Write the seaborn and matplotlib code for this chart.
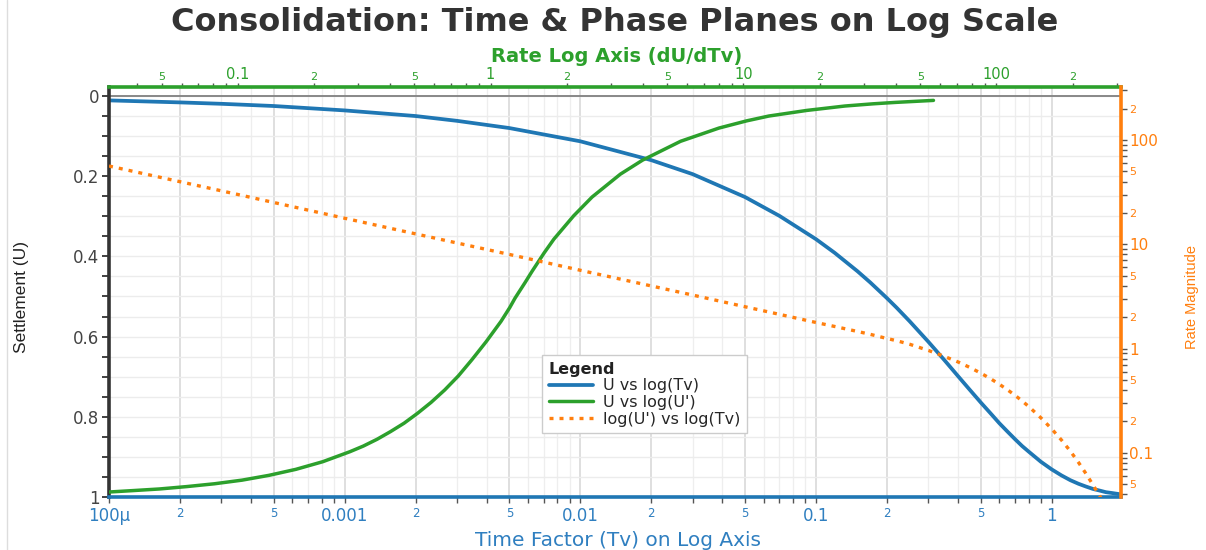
import numpy as np
import pandas as pd
import matplotlib
matplotlib.use("Agg")
import matplotlib.pyplot as plt
from matplotlib.lines import Line2D
from matplotlib.ticker import (FixedLocator, LogLocator, MultipleLocator,
                               FuncFormatter)
import seaborn as sns

sns.set_theme(style="white")
plt.rcParams["font.family"] = ["DejaVu Sans"]

# Consolidation curve: time factor, degree of settlement and settlement rate
time_factor = [0.0001, 0.0002, 0.0003, 0.0005, 0.001, 0.002, 0.003, 0.005,
               0.01, 0.02, 0.03, 0.05, 0.07, 0.1, 0.12, 0.15, 0.17, 0.2, 0.22,
               0.25, 0.3, 0.35, 0.4, 0.45, 0.5, 0.55, 0.6, 0.65, 0.7, 0.75,
               0.8, 0.9, 1.0, 1.1, 1.2, 1.3, 1.4, 1.5, 1.6, 1.7, 1.8, 2.0]
settlement = [0.011, 0.016, 0.0195, 0.025, 0.036, 0.050, 0.062, 0.080,
              0.113, 0.160, 0.195, 0.252, 0.299, 0.357, 0.391, 0.437, 0.465,
              0.504, 0.528, 0.562, 0.613, 0.658, 0.698, 0.733, 0.764, 0.791,
              0.816, 0.837, 0.856, 0.873, 0.887, 0.912, 0.931, 0.946, 0.958,
              0.967, 0.974, 0.980, 0.984, 0.988, 0.990, 0.994]
rate = [56.4, 39.9, 32.6, 25.2, 17.8, 12.6, 10.3, 8.0, 5.64, 3.99, 3.26,
        2.52, 2.13, 1.78, 1.63, 1.46, 1.37, 1.25, 1.19, 1.10, 0.96, 0.843,
        0.746, 0.659, 0.582, 0.515, 0.455, 0.402, 0.356, 0.314, 0.278, 0.217,
        0.170, 0.133, 0.104, 0.081, 0.063, 0.049, 0.0386, 0.0302, 0.0236,
        0.0144]

series_labels = ["U vs log(Tv)", "U vs log(U')", "log(U') vs log(Tv)"]
bottom_major_labels = {1e-4: "100µ", 1e-3: "0.001", 1e-2: "0.01", 1e-1: "0.1", 1.0: "1"}
top_major_labels = {0.1: "0.1", 1.0: "1", 10.0: "10", 100.0: "100"}
right_major_labels = {0.1: "0.1", 1.0: "1", 10.0: "10", 100.0: "100"}

BLUE = "#1f77b4"
GREEN = "#2ca02c"
ORANGE = "#ff7f0e"
BLUE_TXT = "#2f7fc0"
DARK = "#333333"

df = pd.DataFrame({"tv": time_factor, "u": settlement, "rate": rate})

W, H = 1206, 550
fig = plt.figure(figsize=(W / 100, H / 100), dpi=100)
fig.patch.set_facecolor("white")
left, right, top, bottom = 109, 1121, 87, 497
ax = fig.add_axes([left / W, 1 - bottom / H, (right - left) / W, (bottom - top) / H])
ax_top = ax.twiny()
ax_right = ax.twinx()

ax.set_xscale("log")
ax_top.set_xscale("log")
ax_right.set_yscale("log")

sns.lineplot(data=df, x="tv", y="u", ax=ax, color=BLUE, lw=2.7, legend=False)
sns.lineplot(data=df, x="rate", y="u", ax=ax_top, color=GREEN, lw=2.5,
             sort=False, legend=False)
sns.lineplot(data=df, x="tv", y="rate", ax=ax_right, color=ORANGE, lw=2.4,
             linestyle=(0, (1.2, 1.8)), legend=False)

ax.set_xlim(1e-4, 1.97)
ax.set_ylim(1.0, -0.0224)
ax_top.set_xlim(0.031, 311)
ax_right.set_ylim(0.0377, 323)

for a in (ax, ax_top, ax_right):
    a.set_xlabel("")
    a.set_ylabel("")


def lead_digit(v):
    m = v / 10 ** np.floor(np.log10(v) + 1e-9)
    return int(round(m))


def minor_fmt(v, pos):
    d = lead_digit(v)
    return str(d) if d in (2, 5) else ""


def mapped_fmt(table):
    def f(v, pos):
        for k, s in table.items():
            if abs(v - k) / k < 1e-6:
                return s
        return ""
    return FuncFormatter(f)


# bottom axis: time factor
ax.xaxis.set_major_locator(FixedLocator(list(bottom_major_labels)))
ax.xaxis.set_major_formatter(mapped_fmt(bottom_major_labels))
ax.xaxis.set_minor_locator(LogLocator(base=10, subs=np.arange(2, 10), numticks=30))
ax.xaxis.set_minor_formatter(FuncFormatter(minor_fmt))
ax.tick_params(axis="x", which="both", direction="out", length=4, width=1,
               color="#555555", labelcolor=BLUE_TXT, pad=3, top=False)
ax.tick_params(axis="x", which="major", labelsize=12)
ax.tick_params(axis="x", which="minor", labelsize=8.5)

# left axis: settlement
ax.yaxis.set_major_locator(MultipleLocator(0.2))
ax.yaxis.set_minor_locator(MultipleLocator(0.05))
ax.yaxis.set_major_formatter(FuncFormatter(lambda v, p: f"{v:g}" if v >= -1e-9 else ""))
ax.tick_params(axis="y", which="both", direction="out", length=5, width=1.3,
               color=DARK, labelcolor="#444444", labelsize=12, pad=2, right=False)

ax.grid(axis="x", which="major", color="#dcdcdc", lw=1.3)
ax.grid(axis="x", which="minor", color="#eeeeee", lw=0.9)
ax.grid(axis="y", which="both", color="#ececec", lw=1.0)
ax.set_axisbelow(True)
ax.axhline(0, color="#808080", lw=1.3, zorder=1.5)

for name, sp in ax.spines.items():
    sp.set_visible(name in ("left", "bottom"))
ax.spines["left"].set_color(DARK)
ax.spines["left"].set_linewidth(2.6)
ax.spines["bottom"].set_color(BLUE)
ax.spines["bottom"].set_linewidth(2.6)

# top axis: settlement rate
ax_top.xaxis.set_major_locator(FixedLocator(list(top_major_labels)))
ax_top.xaxis.set_major_formatter(mapped_fmt(top_major_labels))
ax_top.xaxis.set_minor_locator(LogLocator(base=10, subs=np.arange(2, 10), numticks=30))
ax_top.xaxis.set_minor_formatter(FuncFormatter(minor_fmt))
ax_top.tick_params(axis="x", which="both", direction="out", length=3, width=1,
                   color="#555555", labelcolor=GREEN, pad=0.5)
ax_top.tick_params(axis="x", which="major", labelsize=10.5)
ax_top.tick_params(axis="x", which="minor", labelsize=8)
for name, sp in ax_top.spines.items():
    sp.set_visible(name == "top")
ax_top.spines["top"].set_color(GREEN)
ax_top.spines["top"].set_linewidth(2.6)

# right axis: rate magnitude
ax_right.yaxis.set_major_locator(FixedLocator(list(right_major_labels)))
ax_right.yaxis.set_major_formatter(mapped_fmt(right_major_labels))
ax_right.yaxis.set_minor_locator(LogLocator(base=10, subs=np.arange(2, 10), numticks=30))
ax_right.yaxis.set_minor_formatter(FuncFormatter(minor_fmt))
ax_right.tick_params(axis="y", which="both", direction="out", length=4, width=1,
                     color="#555555", labelcolor=ORANGE, pad=2)
ax_right.tick_params(axis="y", which="major", labelsize=11)
ax_right.tick_params(axis="y", which="minor", labelsize=8)
for name, sp in ax_right.spines.items():
    sp.set_visible(name == "right")
ax_right.spines["right"].set_color(ORANGE)
ax_right.spines["right"].set_linewidth(2.6)

# legend
handles = [ax.lines[0], ax_top.lines[0], ax_right.lines[0]]
leg = ax_right.legend(handles, series_labels, title="Legend", loc="lower left",
                      bbox_to_anchor=(0.428, 0.156), borderaxespad=0,
                      frameon=True, fancybox=False,
                      edgecolor="#cccccc", framealpha=1, fontsize=11.5,
                      title_fontproperties={"weight": "bold", "size": 11.5},
                      alignment="left", handlelength=2.8, borderpad=0.4,
                      labelspacing=0.1, handletextpad=0.6)
leg.get_title().set_color("#222222")
leg.get_frame().set_linewidth(1.0)

# titles and axis captions
fig.text(615 / W, 1 - 23 / H, "Consolidation: Time & Phase Planes on Log Scale",
         ha="center", va="center", fontsize=23, weight="bold", color=DARK)
fig.text(617 / W, 1 - 57 / H, "Rate Log Axis (dU/dTv)", ha="center", va="center",
         fontsize=14, weight="bold", color=GREEN)
fig.text(618 / W, 1 - 540 / H, "Time Factor (Tv) on Log Axis", ha="center",
         va="center", fontsize=14.5, color=BLUE_TXT)
fig.text(22 / W, 1 - 297 / H, "Settlement (U)", ha="center", va="center",
         rotation=90, fontsize=12.5, color="#222222", family="Liberation Sans")
fig.text(1192 / W, 1 - 297 / H, "Rate Magnitude", ha="center", va="center",
         rotation=90, fontsize=10.5, color=ORANGE, family="Liberation Sans")
fig.add_artist(Line2D([7 / W, 7 / W], [0, 1], transform=fig.transFigure,
                      color="#dddddd", lw=1))

# emphasise grid lines at the labelled 2 and 5 positions
fig.canvas.draw()
for tick, loc in zip(ax.xaxis.get_minor_ticks(), ax.xaxis.get_minorticklocs()):
    if lead_digit(loc) in (2, 5):
        tick.gridline.set_color("#dcdcdc")
        tick.gridline.set_linewidth(1.3)

fig.savefig("out.png", dpi=100, facecolor="white")
